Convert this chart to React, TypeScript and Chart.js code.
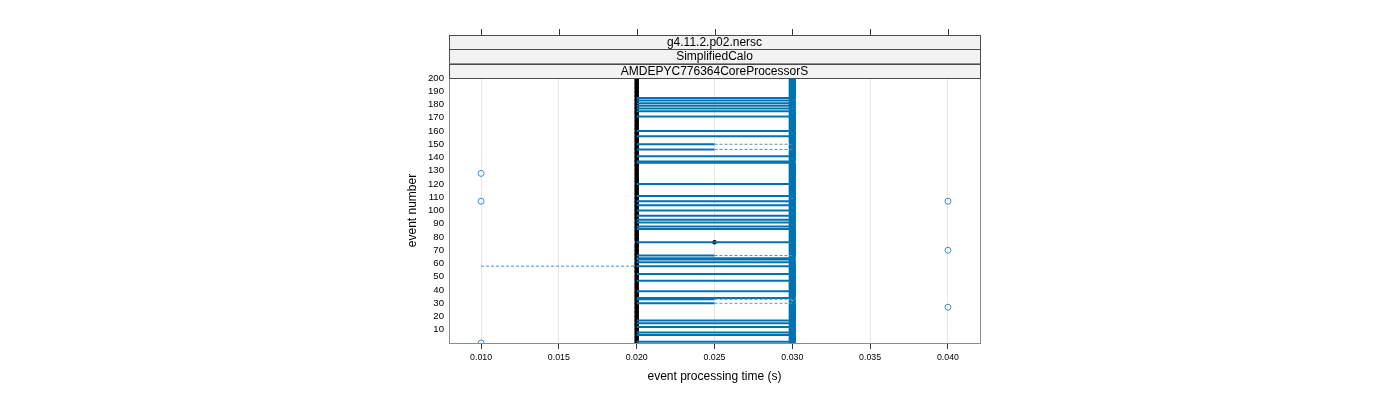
import React, { useEffect, useRef } from 'react';
import { Chart, registerables } from 'chart.js';

Chart.register(...registerables);

// ---- axis ticks / labels ----
const xTicks = [0.01, 0.015, 0.02, 0.025, 0.03, 0.035, 0.04];
const yTicks = [10, 20, 30, 40, 50, 60, 70, 80, 90, 100, 110, 120, 130, 140, 150, 160, 170, 180, 190, 200];
const stripLabels = ['g4.11.2.p02.nersc', 'SimplifiedCalo', 'AMDEPYC776364CoreProcessorS'];
const xTitle = 'event processing time (s)';
const yTitle = 'event number';

// ---- per-event medians (event 0..199) ----
const M = 0.02;
const medians = [
  M, M, M, M, M, M, M, M, M, M,
  M, M, M, M, M, M, M, M, M, M,
  M, M, M, M, M, M, M, M, M, M,
  M, M, M, M, M, M, M, M, M, M,
  M, M, M, M, M, M, M, M, M, M,
  M, M, M, M, M, M, M, M, M, M,
  M, M, M, M, M, M, M, M, M, M,
  M, M, M, M, M, M, 0.025, M, M, M,
  M, M, M, M, M, M, M, M, M, M,
  M, M, M, M, M, M, M, M, M, M,
  M, M, M, M, M, M, M, M, M, M,
  M, M, M, M, M, M, M, M, M, M,
  M, M, M, M, M, M, M, M, M, M,
  M, M, M, M, M, M, M, M, M, M,
  M, M, M, M, M, M, M, M, M, M,
  M, M, M, M, M, M, M, M, M, M,
  M, M, M, M, M, M, M, M, M, M,
  M, M, M, M, M, M, M, M, M, M,
  M, M, M, M, M, M, M, M, M, M,
  M, M, M, M, M, M, M, M, M, M,
];

// ---- per-event outlying upper value (null where it lies inside box/whisker) ----
const H = 0.03;
const N = null;
const upperOutliers = [
  H, N, H, H, H, H, N, H, N, H,
  H, H, N, H, H, N, H, N, H, H,
  H, H, H, H, H, H, H, H, H, H,
  N, H, H, N, N, H, H, H, H, N,
  H, H, H, H, H, H, H, N, H, H,
  H, H, N, H, H, H, H, H, N, H,
  H, N, H, N, N, H, N, H, H, H,
  H, H, H, H, H, H, N, H, H, H,
  H, H, H, H, H, H, N, H, N, H,
  H, N, H, N, H, H, N, H, H, H,
  N, H, H, H, N, H, H, N, H, H,
  H, N, H, H, H, H, H, H, H, H,
  N, H, H, H, H, H, H, H, H, H,
  H, H, H, H, H, H, N, N, H, H,
  H, N, H, H, H, H, N, H, H, H,
  N, H, H, H, H, H, N, H, H, H,
  N, H, H, H, H, H, H, H, H, H,
  H, N, H, H, H, N, H, N, H, N,
  H, N, H, N, H, N, H, H, H, H,
  H, H, H, H, H, H, H, H, H, H,
];

// ---- boxes (events with a non-degenerate interquartile box) ----
const boxEvents = [1, 6, 8, 12, 15, 17, 30, 33, 34, 39, 47, 52, 58, 61, 63, 64, 66, 76, 86, 88, 91, 93, 96, 100, 104, 107, 111, 120, 136, 137, 141, 146, 150, 156, 160, 171, 175, 177, 179, 181, 183, 185];
const boxLow = [0.02, 0.02, 0.02, 0.02, 0.02, 0.02, 0.02, 0.02, 0.02, 0.02, 0.02, 0.02, 0.02, 0.02, 0.02, 0.02, 0.02, 0.02, 0.02, 0.02, 0.02, 0.02, 0.02, 0.02, 0.02, 0.02, 0.02, 0.02, 0.02, 0.02, 0.02, 0.02, 0.02, 0.02, 0.02, 0.02, 0.02, 0.02, 0.02, 0.02, 0.02, 0.02];
const boxHigh = [0.03, 0.03, 0.03, 0.03, 0.03, 0.03, 0.025, 0.025, 0.03, 0.03, 0.03, 0.03, 0.03, 0.03, 0.03, 0.03, 0.025, 0.03, 0.03, 0.03, 0.03, 0.03, 0.03, 0.03, 0.03, 0.03, 0.03, 0.03, 0.03, 0.03, 0.03, 0.025, 0.025, 0.03, 0.03, 0.03, 0.03, 0.03, 0.03, 0.03, 0.03, 0.03];

// ---- dashed whiskers ----
const whiskerEvents = [58, 30, 33, 66, 146, 150];
const whiskerFrom = [0.01, 0.025, 0.025, 0.025, 0.025, 0.025];
const whiskerTo = [0.02, 0.03, 0.03, 0.03, 0.03, 0.03];

// ---- far outliers ----
const farOutlierEvents = [0, 107, 128, 27, 70, 107];
const farOutlierValues = [0.01, 0.01, 0.01, 0.04, 0.04, 0.04];

const BLUE = '#0072b2';
const LIGHT_BLUE = '#3d8fd1';

export default function App() {
  const ref = useRef<HTMLCanvasElement>(null);

  useEffect(() => {
    document.body.style.margin = '0';
    Chart.defaults.font.family = "'Liberation Sans', Arial, sans-serif";
    const canvas = ref.current!;

    const datasets: any[] = [];
    whiskerEvents.forEach((e, i) => {
      datasets.push({
        type: 'line',
        data: [{ x: whiskerFrom[i], y: e }, { x: whiskerTo[i], y: e }],
        borderColor: e === 58 ? LIGHT_BLUE : '#5a8fb8',
        borderWidth: 1,
        borderDash: [3, 2],
        pointRadius: 0,
        fill: false,
      });
    });
    boxEvents.forEach((e, i) => {
      datasets.push({
        type: 'line',
        data: [{ x: boxLow[i], y: e }, { x: boxHigh[i], y: e }],
        borderColor: BLUE,
        borderWidth: 2,
        pointRadius: 0,
        fill: false,
      });
    });
    const upperPts: any[] = [];
    upperOutliers.forEach((v, i) => {
      if (v !== null) upperPts.push({ x: v, y: i });
    });
    datasets.push({
      type: 'scatter',
      data: upperPts,
      pointStyle: 'circle',
      pointRadius: 2.6,
      pointBackgroundColor: 'rgba(0,0,0,0)',
      pointBorderColor: BLUE,
      pointBorderWidth: 2,
    });
    datasets.push({
      type: 'scatter',
      data: farOutlierEvents.map((e, i) => ({ x: farOutlierValues[i], y: e })),
      pointStyle: 'circle',
      pointRadius: 3,
      pointBackgroundColor: 'rgba(0,0,0,0)',
      pointBorderColor: LIGHT_BLUE,
      pointBorderWidth: 1,
    });
    datasets.push({
      type: 'scatter',
      data: medians.map((m, i) => ({ x: m, y: i })),
      pointStyle: 'circle',
      pointRadius: 2.2,
      pointBackgroundColor: '#000',
      pointBorderWidth: 0,
    });

    const decor = {
      id: 'decor',
      afterDraw(chart: any) {
        const { ctx, chartArea } = chart;
        const { left, right, top, bottom } = chartArea;
        const xs = chart.scales.x;
        ctx.save();
        // frame
        ctx.strokeStyle = '#8c8c8c';
        ctx.lineWidth = 1;
        ctx.strokeRect(Math.round(left) + 0.5, Math.round(top) + 0.5, Math.round(right - left), Math.round(bottom - top));
        // strips
        const sh = 14.4;
        const n = stripLabels.length;
        const stripTop = top - n * sh;
        stripLabels.forEach((lab, i) => {
          const y0 = stripTop + i * sh;
          ctx.fillStyle = '#f2f2f2';
          ctx.fillRect(left, y0, right - left, sh);
          ctx.strokeStyle = '#4d4d4d';
          ctx.strokeRect(Math.round(left) + 0.5, Math.round(y0) + 0.5, Math.round(right - left), Math.round(sh));
          ctx.fillStyle = '#000';
          ctx.font = "12px 'Liberation Sans', Arial, sans-serif";
          ctx.textAlign = 'center';
          ctx.textBaseline = 'middle';
          ctx.fillText(lab, (left + right) / 2, y0 + sh / 2 + 0.5);
        });
        // top ticks
        ctx.strokeStyle = '#333';
        xTicks.forEach((v) => {
          const px = Math.round(xs.getPixelForValue(v)) + 0.5;
          ctx.beginPath();
          ctx.moveTo(px, Math.round(stripTop) - 6);
          ctx.lineTo(px, Math.round(stripTop));
          ctx.stroke();
        });
        // titles
        ctx.fillStyle = '#000';
        ctx.font = "12px 'Liberation Sans', Arial, sans-serif";
        ctx.textAlign = 'center';
        ctx.textBaseline = 'middle';
        ctx.fillText(xTitle, (left + right) / 2, 377);
        ctx.translate(413, (top + bottom) / 2);
        ctx.rotate(-Math.PI / 2);
        ctx.fillText(yTitle, 0, 0);
        ctx.restore();
      },
    };

    const chart = new Chart(canvas, {
      type: 'scatter',
      data: { datasets },
      options: {
        animation: false,
        responsive: false,
        devicePixelRatio: 1,
        events: [],
        layout: { padding: { left: 400, right: 420, top: 78, bottom: 0 } },
        plugins: { legend: { display: false }, tooltip: { enabled: false } },
        scales: {
          x: {
            type: 'linear',
            min: 0.00794,
            max: 0.04206,
            afterBuildTicks: (s: any) => {
              s.ticks = xTicks.map((v) => ({ value: v }));
            },
            afterFit: (s: any) => {
              s.height = 57;
            },
            ticks: {
              callback: (v: any) => Number(v).toFixed(3),
              font: { size: 8.8 },
              color: '#000',
              padding: 3,
              maxRotation: 0,
              autoSkip: false,
            },
            grid: { color: '#e6e6e6', tickColor: '#333', tickLength: 6, drawTicks: true },
            border: { display: false },
          },
          y: {
            type: 'linear',
            min: 0,
            max: 200,
            afterBuildTicks: (s: any) => {
              s.ticks = yTicks.map((v) => ({ value: v }));
            },
            afterFit: (s: any) => {
              s.width = 49;
            },
            ticks: { font: { size: 9.6 }, color: '#000', padding: 5, autoSkip: false },
            grid: { display: false, drawTicks: false },
            border: { display: false },
          },
        },
      } as any,
      plugins: [decor],
    });
    return () => chart.destroy();
  }, []);

  return <canvas ref={ref} width={1400} height={400} style={{ display: 'block' }} />;
}
